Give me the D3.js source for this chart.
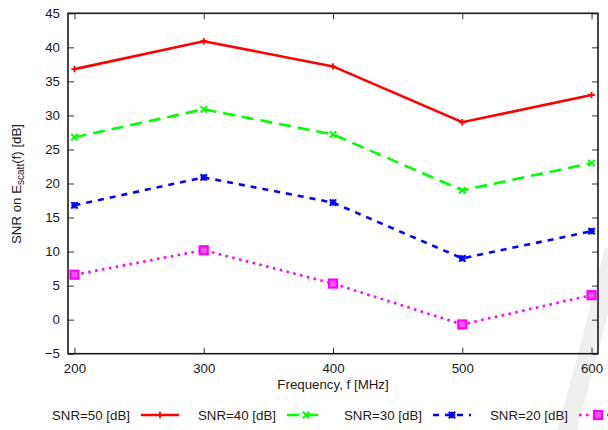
<!DOCTYPE html>
<html>
<head>
<meta charset="utf-8">
<script src="https://cdn.jsdelivr.net/npm/d3@7"></script>
<style>
  html, body { margin: 0; padding: 0; background: #fff; }
  svg { display: block; font-family: "Liberation Sans", Arial, sans-serif; }
</style>
</head>
<body>
<svg id="chart" width="608" height="430"></svg>
<script>
// ---- data ----
const frequencies = [200, 300, 400, 500, 600];
const seriesNames = ["SNR=50 [dB]", "SNR=40 [dB]", "SNR=30 [dB]", "SNR=20 [dB]"];
const snr50 = [36.8, 40.9, 37.2, 29.0, 33.0];
const snr40 = [26.8, 30.9, 27.2, 19.0, 23.0];
const snr30 = [16.8, 20.9, 17.2, 9.0, 13.0];
const snr20 = [6.6, 10.2, 5.3, -0.7, 3.6];
const xTicks = [200, 300, 400, 500, 600];
const yTicks = [-5, 0, 5, 10, 15, 20, 25, 30, 35, 40, 45];
const xLabel = "Frequency, f [MHz]";

// ---- styles ----
const seriesValues = [snr50, snr40, snr30, snr20];
const colors = ["#ff0000", "#00ff00", "#0000ff", "#ff00ff"];
const dashes = [null, "12,7", "6,6", "2.5,4.5"];
const markers = ["plus", "cross", "star", "square"];

const svg = d3.select("#chart");
const mLeft = 68, mRight = 598, mTop = 13.3, mBottom = 353.7;
const x = d3.scaleLinear().domain([195, 605]).range([mLeft, mRight]);
const y = d3.scaleLinear().domain([-5, 45]).range([mBottom, mTop]);

// faint watermark band at right edge
svg.append("path").attr("d", "M614,250 Q595,330 563,445")
  .attr("fill", "none").attr("stroke", "#efefef").attr("stroke-width", 19);

const tickColor = "#333";
const fontSize = 13.3;

function styleAxis(g, showLabels) {
  g.select(".domain").remove();
  g.selectAll(".tick line").attr("stroke", tickColor).attr("stroke-width", 1);
  g.selectAll(".tick text").attr("fill", "#1a1a1a").style("font-size", fontSize + "px")
    .style("font-family", "'Liberation Sans', Arial, sans-serif");
  if (!showLabels) g.selectAll(".tick text").remove();
}

svg.append("g").attr("transform", `translate(0,${mBottom})`)
  .call(d3.axisBottom(x).tickValues(xTicks).tickSize(-6).tickPadding(10).tickFormat(d3.format("d")))
  .call(g => styleAxis(g, true));
svg.append("g").attr("transform", `translate(0,${mTop})`)
  .call(d3.axisTop(x).tickValues(xTicks).tickSize(-6))
  .call(g => styleAxis(g, false));
svg.append("g").attr("transform", `translate(${mLeft},0)`)
  .call(d3.axisLeft(y).tickValues(yTicks).tickSize(-6).tickPadding(8).tickFormat(d3.format("d")))
  .call(g => styleAxis(g, true));
svg.append("g").attr("transform", `translate(${mRight},0)`)
  .call(d3.axisRight(y).tickValues(yTicks).tickSize(-6))
  .call(g => styleAxis(g, false));

// frame
svg.append("rect").attr("x", mLeft).attr("y", mTop)
  .attr("width", mRight - mLeft).attr("height", mBottom - mTop)
  .attr("fill", "none").attr("stroke", "#1a1a1a").attr("stroke-width", 1.6);

// axis titles
svg.append("text").attr("x", (mLeft + mRight) / 2).attr("y", 389)
  .attr("text-anchor", "middle").attr("fill", "#1a1a1a").style("font-size", fontSize + "px")
  .text(xLabel);
const yl = svg.append("text").attr("transform", "translate(21,184) rotate(-90)")
  .attr("text-anchor", "middle").attr("fill", "#1a1a1a").style("font-size", fontSize + "px");
yl.append("tspan").text("SNR on E");
yl.append("tspan").attr("dy", 3).style("font-size", "10px").text("scatt");
yl.append("tspan").attr("dy", -3).text("(f) [dB]");

// marker drawing
function drawMarker(g, type, cx, cy, color) {
  const s = 3.2;
  if (type === "plus") {
    g.append("path").attr("d", `M${cx - s},${cy}H${cx + s}M${cx},${cy - s}V${cy + s}`)
      .attr("stroke", color).attr("stroke-width", 1.8).attr("fill", "none");
  } else if (type === "cross") {
    g.append("path").attr("d", `M${cx - s},${cy - s}L${cx + s},${cy + s}M${cx - s},${cy + s}L${cx + s},${cy - s}`)
      .attr("stroke", color).attr("stroke-width", 2).attr("fill", "none");
  } else if (type === "star") {
    g.append("path").attr("d",
      `M${cx - s},${cy - s}L${cx + s},${cy + s}M${cx - s},${cy + s}L${cx + s},${cy - s}M${cx - s},${cy}H${cx + s}M${cx},${cy - s}V${cy + s}`)
      .attr("stroke", color).attr("stroke-width", 2).attr("fill", "none");
  } else {
    g.append("rect").attr("x", cx - 4).attr("y", cy - 4).attr("width", 8).attr("height", 8)
      .attr("fill", "#ff55ff").attr("stroke", color).attr("stroke-width", 2.2);
  }
}

const line = d3.line().x((d, i) => x(frequencies[i])).y(d => y(d));
seriesValues.forEach((vals, k) => {
  const g = svg.append("g");
  g.append("path").datum(vals).attr("d", line)
    .attr("fill", "none").attr("stroke", colors[k]).attr("stroke-width", 2.6)
    .attr("stroke-dasharray", dashes[k]);
  vals.forEach((v, i) => drawMarker(g, markers[k], x(frequencies[i]), y(v), colors[k]));
});

// legend
seriesNames.forEach((name, k) => {
  const x0 = 52 + k * 146, ly = 415;
  const g = svg.append("g");
  g.append("text").attr("x", x0).attr("y", ly + 4.5).attr("fill", "#1a1a1a")
    .style("font-size", fontSize + "px").text(name);
  g.append("line").attr("x1", x0 + 89).attr("x2", x0 + 127).attr("y1", ly).attr("y2", ly)
    .attr("stroke", colors[k]).attr("stroke-width", 2.6).attr("stroke-dasharray", dashes[k]);
  drawMarker(g, markers[k], x0 + 108, ly, colors[k]);
});
</script>
</body>
</html>
